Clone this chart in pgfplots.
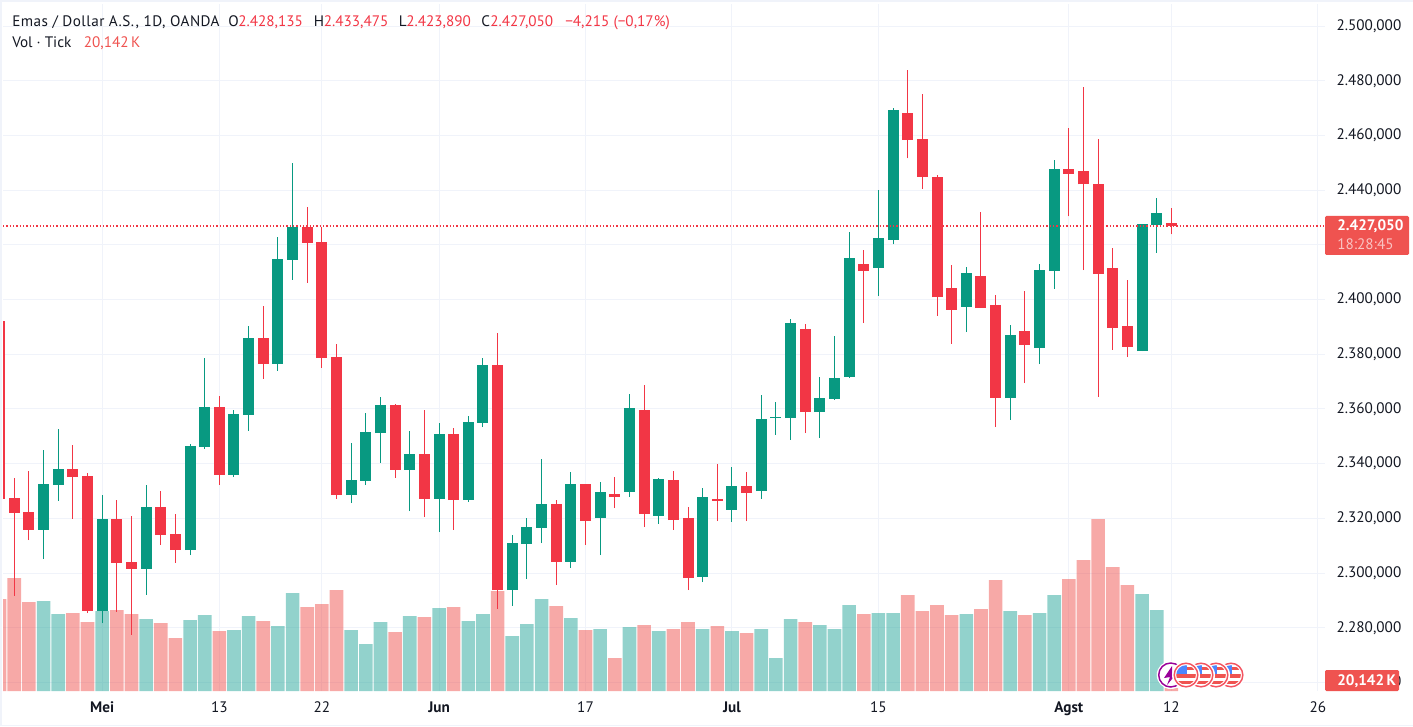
\documentclass[border=0pt]{standalone}
\usepackage{fontspec}
\setmainfont{PT Sans}
\usepackage{pgfplots}
\usepackage{pgfplotstable}
\pgfplotsset{compat=1.18}

\definecolor{upc}{HTML}{089981}
\definecolor{downc}{HTML}{F23645}
\definecolor{volup}{HTML}{26A69A}
\definecolor{voldown}{HTML}{EF5350}
\definecolor{gridc}{HTML}{F0F3FA}
\definecolor{txt}{HTML}{131722}

% i high top bottom low vol(K)
\pgfplotstableread{
i high top bot low vol
-1 2392.2 2392.2 2327.1 2327.1 644
0 2334.8 2327.4 2322.0 2291.7 791
1 2337.3 2322.3 2315.8 2312.1 623
4 2346.8 2338.1 2335.1 2319.8 546
5 2336.6 2335.5 2286.1 2285.4 483
7 2326.7 2319.8 2303.7 2285.8 567
8 2320.9 2304.1 2301.5 2277.4 539
10 2330.0 2324.2 2313.9 2310.3 476
11 2321.6 2314.3 2308.4 2303.7 371
14 2364.7 2360.7 2335.9 2332.2 420
17 2397.7 2386.0 2376.5 2371.0 490
20 2433.9 2426.5 2420.7 2406.1 588
21 2426.5 2421.1 2378.6 2375.0 609
22 2383.8 2379.0 2328.5 2327.1 707
26 2361.8 2361.5 2337.7 2334.8 413
28 2359.6 2343.5 2327.1 2320.5 518
30 2353.1 2350.9 2326.7 2315.8 588
33 2387.8 2376.1 2293.8 2286.9 700
37 2326.7 2325.3 2304.1 2295.6 595
39 2332.6 2332.6 2319.0 2310.3 427
41 2335.1 2328.9 2327.8 2323.8 231
43 2368.8 2359.6 2321.6 2316.8 462
45 2337.3 2334.0 2319.4 2315.8 434
46 2324.2 2320.1 2298.2 2293.8 483
48 2339.9 2327.1 2326.4 2319.0 455
50 2337.0 2331.8 2329.3 2319.0 406
54 2391.1 2389.3 2358.9 2351.2 483
58 2418.1 2413.0 2410.4 2391.4 539
61 2483.8 2468.1 2458.5 2451.6 672
62 2475.0 2458.9 2445.0 2440.6 560
63 2445.4 2444.7 2400.8 2394.1 602
64 2412.5 2404.1 2396.2 2383.8 532
66 2432.2 2408.8 2396.9 2396.9 574
67 2401.5 2398.0 2364.0 2353.4 777
69 2403.1 2388.5 2383.4 2369.5 532
72 2462.6 2447.9 2446.1 2430.4 784
73 2477.9 2447.2 2442.1 2410.8 917
74 2458.9 2442.1 2409.3 2364.4 1204
75 2418.7 2411.5 2389.6 2381.6 868
76 2407.2 2390.3 2382.7 2379.0 742
79 2433.475 2428.135 2427.05 2423.89 20.142
}\downtbl

\pgfplotstableread{
i high top bot low vol
2 2345.0 2332.6 2315.8 2305.1 630
3 2352.7 2338.1 2332.2 2326.4 539
6 2328.5 2319.8 2286.1 2281.7 560
9 2332.2 2324.2 2301.5 2292.0 504
12 2347.2 2346.5 2308.4 2306.6 497
13 2378.6 2360.7 2346.1 2345.4 532
15 2359.6 2358.2 2335.9 2335.1 427
16 2390.3 2386.0 2357.8 2352.0 525
18 2422.9 2414.8 2376.5 2373.9 455
19 2449.9 2426.5 2414.5 2407.2 686
23 2347.6 2334.0 2328.5 2325.6 427
24 2358.5 2351.6 2333.7 2332.2 329
25 2364.4 2361.5 2351.2 2340.3 483
27 2352.0 2343.5 2337.7 2322.7 525
29 2354.9 2350.9 2327.1 2315.0 581
31 2357.4 2355.2 2326.7 2326.0 490
32 2378.6 2376.1 2354.9 2353.4 539
34 2313.9 2311.0 2293.8 2288.0 385
35 2320.1 2316.8 2310.6 2297.8 469
36 2341.7 2325.3 2316.5 2311.0 644
38 2337.0 2332.6 2304.1 2301.9 511
40 2333.3 2329.7 2320.1 2306.6 434
42 2365.5 2360.4 2329.7 2327.8 448
44 2334.8 2334.4 2320.9 2318.0 420
47 2331.1 2327.8 2298.6 2296.7 434
49 2338.8 2331.8 2323.1 2318.7 420
51 2365.1 2356.3 2330.0 2327.1 434
52 2362.6 2357.1 2356.7 2350.5 231
53 2392.9 2391.4 2356.7 2348.7 504
55 2371.7 2364.0 2358.9 2349.4 462
56 2386.7 2371.3 2363.6 2363.3 434
57 2424.7 2415.2 2371.7 2371.3 602
59 2439.9 2422.5 2411.5 2401.3 546
60 2469.9 2469.2 2421.8 2420.2 546
65 2412.1 2409.9 2397.3 2388.1 539
68 2390.7 2387.0 2364.0 2356.0 560
70 2413.0 2410.8 2382.3 2376.4 546
71 2451.2 2447.6 2410.4 2403.9 672
77 2427.8 2427.5 2381.2 2381.2 679
78 2437.3 2431.5 2427.1 2417.2 567
}\uptbl

\pgfplotsset{
  pane/.style={
    scale only axis,
    at={(2.25pt,26.25pt)},
    anchor=south west,
    width=991.5pt,
    height=515.25pt,
    xmin=-0.7715, xmax=89.49,
  },
  pricerange/.style={ymin=2256.89, ymax=2508.08},
  % wick or body of a candle, low to high as an error bar
  candle/.style 2 args={
    draw=none, no marks, forget plot,
    error bars/.cd, y dir=plus, y explicit, error mark=none,
    error bar style={draw=#1, line width=#2},
  },
}
\newcommand{\candles}[2]{%
  \addplot[candle={#2}{0.75pt}] table[x=i, y=low, y error plus expr=\thisrow{high}-\thisrow{low}] {#1};
  \addplot[candle={#2}{8.25pt}] table[x=i, y=bot, y error plus expr=\thisrow{top}-\thisrow{bot}] {#1};
}
\newcommand{\usflag}[2]{%
  \fill[white] (#1,#2) circle (14);
  \draw[downc!85!white, line width=1.1pt] (#1,#2) circle (11.8);
  \begin{scope}
    \clip (#1,#2) circle (9.8);
    \fill[voldown] (#1-11,#2-1) rectangle (#1+11,#2+2.5);
    \fill[voldown] (#1-11,#2+6) rectangle (#1+11,#2+9);
    \fill[voldown] (#1+1,#2-8.5) rectangle (#1+11,#2-5.5);
    \fill[blue!20!cyan!40!blue!70!white] (#1-11,#2-11) rectangle (#1+1,#2-1);
  \end{scope}
}
\newcommand{\lbl}[4]{\node[anchor=base west, inner sep=0pt, text=#3] at (#1,#2) {#4};}

\begin{document}
\begin{tikzpicture}
\path[use as bounding box] (0,0) rectangle (1059.75pt,544.5pt);

% grid, price scale, date scale
\begin{axis}[
  pane, pricerange,
  axis line style={draw=none},
  major tick length=0pt,
  grid=major,
  major grid style={draw=gridc, line width=0.75pt},
  xtick={6,14,21,29,39,49,59,72,79,89},
  xticklabels={\textbf{Mei},13,22,\textbf{Jun},17,\textbf{Jul},15,\textbf{Agst},12,26},
  xticklabel style={anchor=base, yshift=-16pt, font=\fontsize{11.4}{13}\selectfont, text=txt},
  ytick={2260,2280,2300,2320,2340,2360,2380,2400,2440,2460,2480,2500},
  extra y ticks={2420},
  extra y tick labels={},
  extra y tick style={grid=major},
  yticklabel pos=right,
  scaled y ticks=false,
  yticklabel style={
    anchor=west, inner sep=0pt, xshift=8.5pt,
    font=\fontsize{11.4}{13}\selectfont, text=txt,
    /pgf/number format/.cd, fixed, fixed zerofill, precision=3, use comma, assume math mode=true,
  },
]
\end{axis}

% volume
\begin{axis}[
  pane, hide axis,
  ymin=0, ymax=4809,
  ybar, bar shift=0pt, bar width=10.2pt,
]
\addplot[draw=none, fill=voldown, fill opacity=0.5] table[x=i, y=vol] {\downtbl};
\addplot[draw=none, fill=volup, fill opacity=0.5] table[x=i, y=vol] {\uptbl};
\end{axis}

% candles and last price line
\begin{axis}[pane, pricerange, hide axis]
\candles{\downtbl}{downc}
\candles{\uptbl}{upc}
\end{axis}
\begin{axis}[pane, pricerange, hide axis]
\addplot[draw=downc, line width=1.1pt, dash pattern=on 1.1pt off 1.4pt, no marks, forget plot] coordinates {(-0.7715,2426.9) (89.49,2426.9)};
\end{axis}

% overlays, in pixels of the screenshot
\begin{scope}[x=0.75pt, y=-0.75pt, yshift=544.5pt, font=\fontsize{11.4}{13}\selectfont]
  \fill[gridc] (0,0) rectangle (1413,2.5);
  \fill[gridc] (0,0) rectangle (2.2,726);
  \fill[gridc] (0,725) rectangle (1413,726);

  \lbl{12}{26.5}{txt}{\addfontfeature{LetterSpace=3}Emas / Dollar A.S., 1D, OANDA}
  \lbl{228}{26.5}{txt}{O}
  \lbl{238}{26.5}{downc}{2.428,135}
  \lbl{313.5}{26.5}{txt}{H}
  \lbl{323.5}{26.5}{downc}{2.433,475}
  \lbl{398.5}{26.5}{txt}{L}
  \lbl{406}{26.5}{downc}{2.423,890}
  \lbl{481}{26.5}{txt}{C}
  \lbl{490}{26.5}{downc}{2.427,050}
  \lbl{565}{26.5}{downc}{−4,215 (−0,17\%)}
  \lbl{12}{48}{txt}{Vol · Tick}
  \lbl{83.5}{48}{voldown}{20,142\,K}

  % last price tag
  \fill[voldown, rounded corners=1pt] (1325,216) rectangle (1409,255);
  \lbl{1337}{231}{white}{\textbf{2.427,050}}
  \lbl{1337}{249.5}{white!65!voldown}{18:28:45}
  % volume tag
  \fill[voldown, rounded corners=1pt] (1325,670) rectangle (1399,691);
  \lbl{1337}{685}{white}{\textbf{20,142\,K}}

  % event icons
  \fill[white] (1170.7,675) circle (14);
  \draw[violet!80!magenta, line width=1.1pt] (1170.7,675) circle (12);
  \fill[violet!80!magenta] (1172,666) -- (1164,678) -- (1170,677) -- (1167,685) -- (1178,672) -- (1172,673) -- cycle;
  \usflag{1231}{675}
  \usflag{1216}{675}
  \usflag{1201}{675}
  \usflag{1186}{675}
\end{scope}
\end{tikzpicture}
\end{document}
